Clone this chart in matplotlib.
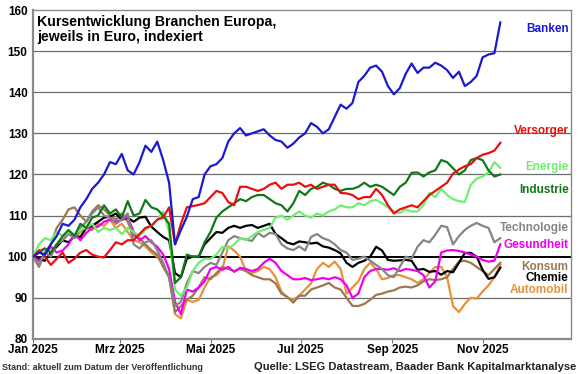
import pandas as pd
import matplotlib
matplotlib.use('Agg')
import matplotlib.pyplot as plt
import matplotlib.dates as mdates

plt.rcParams['font.family'] = ['Liberation Sans', 'DejaVu Sans']

# Stuetzstellen alle 4 Tage, 01.01.2025 bis 13.11.2025
dates = pd.date_range('2025-01-01', '2025-11-13', freq='4D')

banken = [100, 101, 100.5, 103, 105, 108, 107.5, 109, 112, 114,
          116.5, 118, 120, 123, 122.5, 125, 121, 120, 123, 127,
          125.5, 128, 123.5, 118, 103, 106.5, 109.7, 114, 114.5, 120,
          122, 122.5, 124, 128, 130, 131.3, 129.5, 130, 130.5, 131,
          129.5, 128.4, 128, 126.5, 127.5, 129, 130, 132.5, 131.6, 130,
          131, 134, 137, 136, 137.4, 142.5, 144, 146, 146.5, 145,
          141.5, 139.5, 141, 144.5, 147, 144.7, 146, 146, 147.2, 146.5,
          145.4, 143.5, 145, 141.5, 142.5, 144, 148.5, 149.2, 149.5, 157]
versorger = [100, 101.5, 100, 98, 99.5, 101, 98.5, 99.5, 101, 101.6,
             100.5, 100, 99.8, 101.6, 103.5, 103, 104, 104, 105.5, 107,
             107.5, 109, 109.5, 112, 103, 108, 112, 112.3, 112.6, 113,
             114.5, 116, 115.5, 113.3, 112.5, 117, 117, 116.5, 116, 116.5,
             117.5, 118, 116.5, 117.5, 117.5, 118, 117, 117.5, 116.5, 117,
             117.5, 117.5, 115.5, 115.4, 115, 114, 114.5, 114.5, 116.5, 115,
             112.5, 110.5, 111.5, 112, 112.5, 112, 113.5, 115, 116, 117,
             118, 120.2, 121.2, 122, 122.5, 124, 124.8, 125.2, 125.8, 127.7]
energie = [100, 103, 104.5, 104, 106, 105, 106, 105.5, 106.5, 107,
           108, 106, 107, 106.5, 107, 105.5, 107, 106, 105, 106.5,
           107.5, 109, 111, 106, 92, 90.5, 92.5, 96.5, 98.5, 99.5,
           99.5, 100.5, 102.4, 102, 103, 104.5, 104, 105, 106, 106.5,
           107, 109.5, 110, 109, 110, 111, 110, 109.5, 110.5, 110,
           111, 111.5, 112.5, 112, 112, 113, 112.5, 113.5, 113.8, 113,
           112, 111, 110.6, 111.5, 111, 111, 112.5, 115.5, 114.5, 116.5,
           115, 114, 113.5, 113.3, 117.5, 119, 119.5, 120.5, 123, 121.6]
industrie = [100, 101, 102, 101, 103, 105, 106.5, 105, 108, 107,
             109.5, 110, 112.5, 110.5, 111.5, 109.5, 113.5, 110, 110.5, 113.8,
             112, 111.5, 110, 108, 93.6, 95, 100.5, 100, 100, 103.5,
             106, 109.5, 111, 112, 113, 114, 113.5, 114.5, 115, 115,
             114, 113, 112.5, 111, 113, 116, 115, 116.5, 117, 118,
             117.5, 116.5, 116, 116.5, 116.5, 117, 118, 117, 117.5, 117,
             116, 115, 117, 118, 120.4, 120.5, 119.5, 120.5, 121, 123.5,
             123, 121.5, 120, 121, 123.5, 124, 123.5, 121, 119.5, 120]
technologie = [100, 98, 101, 100, 103, 104, 105.5, 104.5, 107, 108.5,
               110.5, 112, 110, 109.5, 108, 109, 110.5, 103, 102, 103.5,
               104, 101.6, 98.5, 95, 88, 89, 93.6, 96.5, 96, 97.5,
               98.5, 98, 101, 104, 105, 104.5, 104.2, 103.8, 105.8, 104.8,
               105.8, 105.5, 103, 102, 101.6, 102.5, 101.5, 104.8, 105.5, 104.5,
               104, 103, 101.6, 101, 99.2, 99.5, 100, 99, 98, 97,
               95.5, 95, 97.5, 100, 99.5, 102.4, 104, 103.5, 105.3, 107.5,
               107.2, 103, 105, 106.5, 107.5, 108.2, 107.5, 107, 103.5, 104.5]
gesundheit = [100, 99, 100.5, 102.4, 101, 101.5, 103, 105.5, 104, 105.8,
              107, 107.3, 108.5, 109, 108.5, 109, 109.7, 106, 104, 105,
              103.5, 102.4, 100.5, 97, 89, 86, 92, 91.5, 92.5, 94,
              97, 97.5, 96.8, 97.5, 96.3, 97.3, 97, 96.5, 97, 98.5,
              99.5, 98.5, 96.5, 95.5, 94.5, 94.5, 94.8, 94.3, 94.5, 94.8,
              94.5, 95, 94.5, 93, 90, 91, 95, 96.5, 97, 97,
              96.8, 97.2, 96.5, 97, 96.8, 96.5, 95.5, 92.5, 94, 101,
              101.5, 101.6, 101.4, 101, 100.5, 100, 99.2, 98.8, 99, 103]
konsum = [100, 97.5, 101, 103, 107, 109, 111.5, 112, 110, 108.5,
          111, 112.5, 111.5, 110, 109, 110.5, 108.5, 105, 104.5, 103,
          101.6, 100.5, 97.5, 95, 86.5, 88, 89.5, 90.5, 92.5, 95,
          94.5, 96, 97.5, 97, 96.5, 97, 96.5, 95.5, 95, 94.5,
          94.5, 93.5, 91, 90.2, 88.8, 90.5, 90.5, 92, 92.5, 93,
          93.6, 92.5, 92, 90, 88, 88, 88.5, 89.5, 90.7, 91,
          91.5, 91.8, 92.5, 92.7, 92.5, 93, 94, 94.5, 94.3, 94.5,
          95, 97, 98.8, 99, 98.5, 97.5, 96.5, 95.5, 97, 98.5]
chemie = [100, 99.5, 99, 101, 102.4, 104, 103.5, 105, 104.8, 107,
          107.5, 108.5, 109.5, 109.7, 110.5, 109, 109.5, 108.5, 109.5, 109.7,
          107.3, 106, 104.8, 104, 96, 95, 99.5, 100, 100, 103,
          104.5, 106, 105.8, 107, 107.5, 107, 107.5, 107.7, 107, 107.5,
          108, 105.5, 104.5, 103.4, 103, 103.7, 103.5, 103.2, 103.4, 102.5,
          102.2, 101.6, 100.8, 98.5, 97.5, 98.5, 99, 100, 102.4, 101.5,
          99.2, 99, 99.1, 99.2, 99, 96.8, 97, 96.3, 96.5, 95.6,
          96.5, 96.2, 98.5, 100.9, 100.9, 100, 96.8, 94.6, 95, 97.3]
automobil = [100, 101.5, 102, 101, 103, 104, 106, 104.5, 106, 107,
             106.5, 108, 107.5, 109, 107, 108, 106, 104, 103.5, 102.5,
             101, 100, 98, 95, 86, 85, 89.5, 89, 89.5, 92.5,
             95, 95.5, 97, 102.5, 101.5, 100, 96.5, 96, 96.5, 97.5,
             97, 95, 91.5, 90, 89.5, 90.5, 92, 93.5, 97, 98.5,
             97.5, 98.8, 97, 91, 92.5, 94, 97, 98.5, 97, 94.5,
             94.8, 95.5, 95.5, 95, 94.5, 93.6, 94.5, 96, 97.5, 97.5,
             95, 88, 86.5, 88.5, 90, 89.8, 91.5, 93, 95, 98]

# (Name, Daten, Farbe, Label-y)
series = [
    ('Automobil', automobil, '#E8913C', 91.8),
    ('Konsum', konsum, '#9C7850', 97.6),
    ('Chemie', chemie, '#000000', 94.7),
    ('Gesundheit', gesundheit, '#F000F0', 102.9),
    ('Technologie', technologie, '#858585', 106.9),
    ('Energie', energie, '#70EE70', 121.7),
    ('Industrie', industrie, '#11781A', 116.3),
    ('Versorger', versorger, '#E81010', 130.6),
    ('Banken', banken, '#1A1AD0', 155.4),
]

fig = plt.figure(figsize=(5.8, 3.74), dpi=100)
ax = fig.add_axes([0.057, 0.094, 0.928, 0.879])

for yv in [90, 110, 120, 130, 140, 150]:
    ax.axhline(yv, color='#6E6E6E', lw=0.9, zorder=1)
ax.axhline(100, color='black', lw=1.4, zorder=1)

for name, vals, col, ly in series:
    ax.plot(dates, vals, color=col, lw=1.6, zorder=3)
    ax.text(0.995, (ly - 80) / 80, name, transform=ax.transAxes, ha='right', va='center',
            color=col, fontsize=8.5, fontweight='bold')

ax.set_xlim(pd.Timestamp('2025-01-01'), pd.Timestamp('2025-12-31'))
ax.set_ylim(80, 160)
ax.set_yticks(range(80, 161, 10))

xtick_dates = pd.to_datetime(['2025-01-01', '2025-03-01', '2025-05-01',
                              '2025-07-01', '2025-09-01', '2025-11-01'])
xtick_labels = ['Jan 2025', 'Mrz 2025', 'Mai 2025', 'Jul 2025', 'Sep 2025', 'Nov 2025']
ax.set_xticks(xtick_dates)
ax.set_xticklabels(xtick_labels)

for lab in ax.get_xticklabels() + ax.get_yticklabels():
    lab.set_fontweight('bold')
    lab.set_fontsize(8.5)
ax.tick_params(axis='y', length=0, pad=4)
ax.tick_params(axis='x', length=3, color='#777777', pad=1)

for sp in ax.spines.values():
    sp.set_color('#8A8A8A')
    sp.set_linewidth(1.0)
ax.spines['left'].set_linewidth(1.6)
ax.spines['bottom'].set_linewidth(1.6)

ax.text(0.008, 0.985, 'Kursentwicklung Branchen Europa,\njeweils in Euro, indexiert',
        transform=ax.transAxes, ha='left', va='top', fontsize=10.2,
        fontweight='bold', linespacing=1.05)

fig.text(0.004, 0.006, 'Stand: aktuell zum Datum der Veröffentlichung',
         fontsize=6.5, fontweight='bold', color='#333333', ha='left', va='bottom')
fig.text(0.993, 0.006, 'Quelle: LSEG Datastream, Baader Bank Kapitalmarktanalyse',
         fontsize=8, fontweight='bold', color='#222222', ha='right', va='bottom')

fig.savefig('out.png', dpi=100)
